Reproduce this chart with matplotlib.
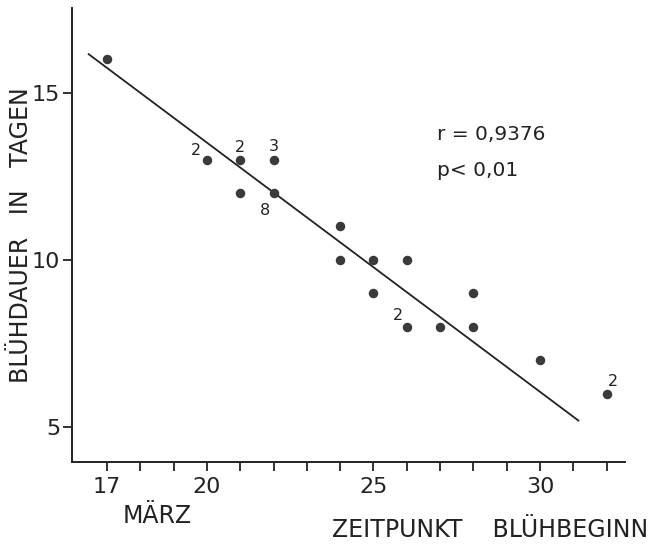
import matplotlib.pyplot as plt
import numpy as np

# Bluehbeginn (Tag im Maerz) gegen Bluehdauer (Tage)
start_day = [17, 20, 21, 22, 21, 22, 24, 24, 25, 25, 26, 26, 27, 28, 28, 30, 32]
duration = [16, 13, 13, 13, 12, 12, 11, 10, 10, 9, 10, 8, 8, 8, 9, 7, 6]

# Anzahl zusammenfallender Werte
count_labels = [(20, 13, '2'), (21, 13, '2'), (22, 13, '3'),
                (22, 12, '8'), (26, 8, '2'), (32, 6, '2')]
count_offsets = [(-8, 6.5), (0, 9), (0, 9.5), (-6.5, -12.5), (-6.5, 8), (4.5, 8.5)]

# Regressionsgerade (Endpunkte aus der Abbildung)
line_x = [16.45, 31.15]
line_y = [16.15, 5.2]

fig = plt.figure(figsize=(6.52, 5.46), dpi=100)
ax = fig.add_axes([72/652, 1 - 462/546, (625 - 72)/652, (462 - 8)/546])

ax.plot(line_x, line_y, color='#222222', lw=1.3)
ax.scatter(start_day, duration, s=34, color='#3a3a3a', zorder=3)

for (x, y, t), off in zip(count_labels, count_offsets):
    ax.annotate(t, (x, y), xytext=off, textcoords='offset points',
                ha='center', va='center', fontsize=11.5, color='#222222')

ax.set_xlim(15.95, 32.55)
ax.set_ylim(3.96, 17.53)

ax.set_xticks(np.arange(17, 33))
ax.set_xticklabels([str(d) if d in (17, 20, 25, 30) else '' for d in range(17, 33)])
ax.set_yticks([5, 10, 15])

for s in ['top', 'right']:
    ax.spines[s].set_visible(False)
for s in ['left', 'bottom']:
    ax.spines[s].set_linewidth(1.4)
    ax.spines[s].set_color('#222222')

ax.tick_params(axis='x', length=6.5, width=1.3, pad=4, labelsize=16, colors='#222222')
ax.tick_params(axis='y', length=6.5, width=1.3, pad=2, labelsize=16, colors='#222222')

ax.text(437/652, 1 - 135/546, 'r = 0,9376', transform=fig.transFigure,
        fontsize=14.5, va='center', ha='left', color='#222222')
ax.text(437/652, 1 - 170/546, 'p< 0,01', transform=fig.transFigure,
        fontsize=14.5, va='center', ha='left', color='#222222')

fig.text(21/652, 1 - 235/546, 'BLÜHDAUER   IN   TAGEN', rotation=90,
         fontsize=17, ha='center', va='center', color='#222222')
fig.text(123/652, 1 - 516/546, 'MÄRZ', fontsize=17, ha='left', va='center',
         color='#222222')
fig.text(332/652, 1 - 530/546, 'ZEITPUNKT    BLÜHBEGINN', fontsize=17,
         ha='left', va='center', color='#222222')

fig.savefig('out.png', dpi=100)
